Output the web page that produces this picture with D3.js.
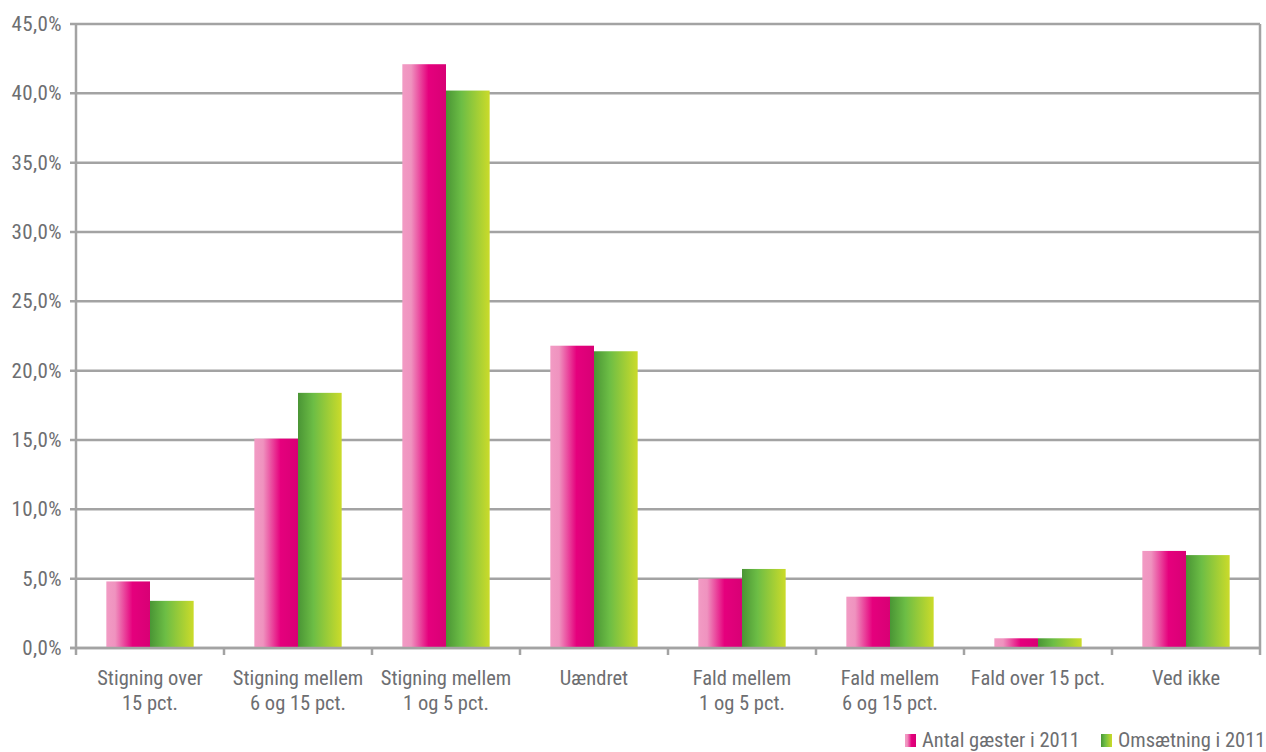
<!DOCTYPE html>
<html><head><meta charset="utf-8">
<script src="https://cdn.jsdelivr.net/npm/d3@7"></script>
<style>
body{margin:0;background:#fff;}
text{font-family:"Liberation Sans Narrow","Roboto Condensed","Liberation Sans",sans-serif;fill:#6d6e71;}
</style></head><body>
<svg id="c" width="1266" height="752"></svg>
<script>
const categories = [["Stigning over","15 pct."],["Stigning mellem","6 og 15 pct."],["Stigning mellem","1 og 5 pct."],["Uændret"],["Fald mellem","1 og 5 pct."],["Fald mellem","6 og 15 pct."],["Fald over 15 pct."],["Ved ikke"]];
const seriesNames = ["Antal gæster i 2011","Omsætning i 2011"];
const guests = [4.8,15.1,42.1,21.8,5.0,3.7,0.7,7.0];
const revenue = [3.4,18.4,40.2,21.4,5.7,3.7,0.7,6.7];
const yTicks = [0,5,10,15,20,25,30,35,40,45];

const svg = d3.select("#c");
const L=76, R=1260, T=24, B=648;
const defs = svg.append("defs");
function grad(id, stops){
  const g=defs.append("linearGradient").attr("id",id).attr("x1","0%").attr("x2","100%").attr("y1","0%").attr("y2","0%");
  stops.forEach(s=>g.append("stop").attr("offset",s[0]).attr("stop-color",s[1]));
}
grad("gp",[["0%","#f29bc4"],["20%","#ef93bf"],["60%","#e5007d"],["100%","#d80075"]]);
grad("gg",[["0%","#4a9535"],["35%","#6cbd45"],["100%","#cbdb2a"]]);

const x = d3.scaleBand().domain(d3.range(categories.length)).range([L,R]).paddingInner(0).paddingOuter(0);
const y = d3.scaleLinear().domain([0,45]).range([B,T]);
const sub = d3.scaleBand().domain([0,1]).range([0,x.bandwidth()*0.59]);
const off = x.bandwidth()*0.205;

svg.append("g").selectAll("line").data(yTicks).join("line")
  .attr("x1",L-6).attr("x2",R).attr("y1",d=>y(d)).attr("y2",d=>y(d))
  .attr("stroke","#a3a3a3").attr("stroke-width",2.5);
svg.append("g").selectAll("text").data(yTicks).join("text")
  .attr("x",L-14).attr("y",d=>y(d)+7).attr("text-anchor","end").attr("font-size",21).attr("letter-spacing",0.4)
  .text(d=>d3.format(".1f")(d).replace(".",",")+"%");

const data=[guests,revenue];
const fills=["url(#gp)","url(#gg)"];
data.forEach((arr,si)=>{
  svg.append("g").selectAll("rect").data(arr).join("rect")
    .attr("x",(d,i)=>x(i)+off+sub(si)).attr("width",sub.bandwidth())
    .attr("y",d=>y(d)).attr("height",d=>B-y(d)).attr("fill",fills[si]);
});

svg.append("line").attr("x1",L).attr("x2",L).attr("y1",T).attr("y2",B+7).attr("stroke","#a3a3a3").attr("stroke-width",2.5);
svg.append("line").attr("x1",R).attr("x2",R).attr("y1",T).attr("y2",B+7).attr("stroke","#a3a3a3").attr("stroke-width",2.5);
svg.append("line").attr("x1",L-6).attr("x2",R).attr("y1",B).attr("y2",B).attr("stroke","#a3a3a3").attr("stroke-width",2.5);
svg.append("g").selectAll("line").data(d3.range(1,categories.length)).join("line")
  .attr("x1",d=>x(d)).attr("x2",d=>x(d)).attr("y1",B).attr("y2",B+7).attr("stroke","#a3a3a3").attr("stroke-width",2.5);

const cl = svg.append("g").selectAll("text").data(categories).join("text")
  .attr("x",(d,i)=>x(i)+x.bandwidth()/2).attr("y",685).attr("text-anchor","middle").attr("font-size",20.5);
cl.selectAll("tspan").data(d=>d).join("tspan")
  .attr("x",function(){return this.parentNode.getAttribute("x");})
  .attr("dy",(d,i)=>i?25:0).text(d=>d);

const lg=[{x:905,name:seriesNames[0],f:fills[0]},{x:1101,name:seriesNames[1],f:fills[1]}];
lg.forEach(l=>{
  svg.append("rect").attr("x",l.x).attr("y",734).attr("width",11).attr("height",13).attr("fill",l.f);
  svg.append("text").attr("x",l.x+17).attr("y",747).attr("font-size",20.5).text(l.name);
});
</script>
</body></html>
